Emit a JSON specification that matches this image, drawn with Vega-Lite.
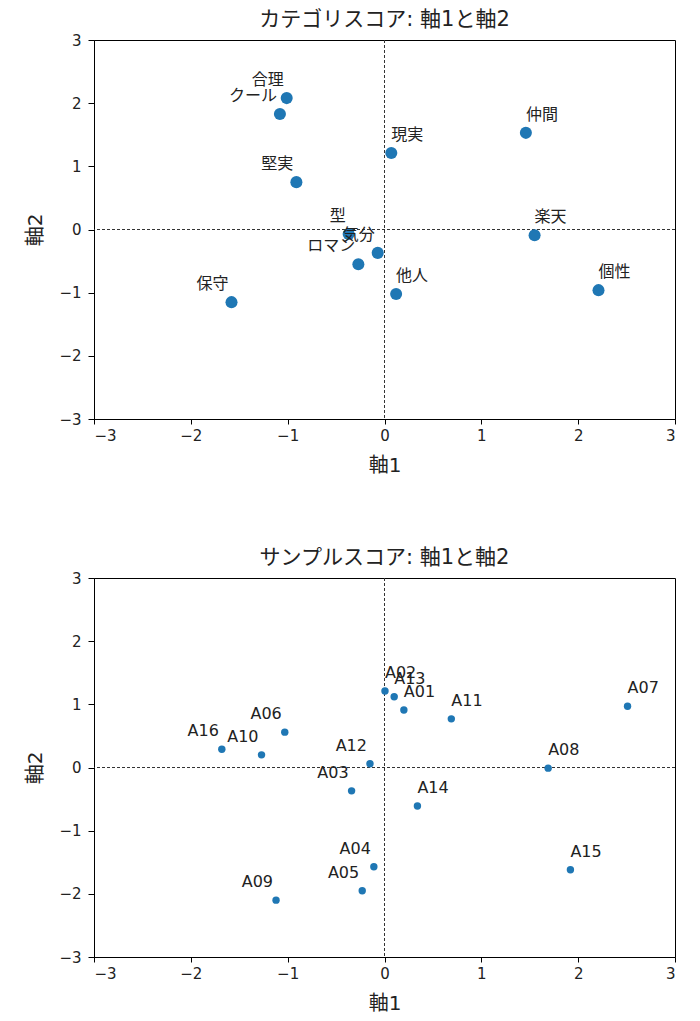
{
  "$schema": "https://vega.github.io/schema/vega-lite/v6.json",
  "background": "white",
  "padding": {"left": 25, "top": 8, "right": 20, "bottom": 5},
  "spacing": 70,
  "config": {
    "font": "DejaVu Sans, Noto Sans CJK JP",
    "view": {"stroke": "black", "strokeWidth": 1},
    "title": {"fontSize": 21, "fontWeight": "normal", "font": "DejaVu Sans, Noto Sans CJK JP", "color": "#222", "offset": 3},
    "axis": {
      "domainColor": "black", "tickColor": "black", "grid": false, "format": "d",
      "labelFontSize": 15, "labelColor": "#222", "labelFont": "DejaVu Sans",
      "titleFontSize": 20, "titleFontWeight": "normal", "titleFont": "DejaVu Sans, Noto Sans CJK JP", "titleColor": "#222"
    },
    "axisX": {"tickSize": 5, "labelPadding": 4, "titlePadding": 12},
    "axisY": {"tickSize": 6, "labelPadding": 7, "titlePadding": 13}
  },
  "datasets": {
    "cat": [
      {"name": "合理", "x": -1.01, "y": 2.08},
      {"name": "クール", "x": -1.08, "y": 1.83},
      {"name": "堅実", "x": -0.91, "y": 0.75},
      {"name": "現実", "x": 0.07, "y": 1.21},
      {"name": "仲間", "x": 1.46, "y": 1.53},
      {"name": "楽天", "x": 1.55, "y": -0.09},
      {"name": "個性", "x": 2.21, "y": -0.96},
      {"name": "型", "x": -0.37, "y": -0.07},
      {"name": "気分", "x": -0.07, "y": -0.37},
      {"name": "ロマン", "x": -0.27, "y": -0.55},
      {"name": "他人", "x": 0.12, "y": -1.02},
      {"name": "保守", "x": -1.58, "y": -1.15}
    ],
    "sample": [
      {"name": "A01", "x": 0.2, "y": 0.91},
      {"name": "A02", "x": 0.005, "y": 1.21},
      {"name": "A03", "x": -0.34, "y": -0.37},
      {"name": "A04", "x": -0.11, "y": -1.57},
      {"name": "A05", "x": -0.23, "y": -1.95},
      {"name": "A06", "x": -1.03, "y": 0.56},
      {"name": "A07", "x": 2.51, "y": 0.97},
      {"name": "A08", "x": 1.69, "y": -0.01},
      {"name": "A09", "x": -1.12, "y": -2.1},
      {"name": "A10", "x": -1.27, "y": 0.2},
      {"name": "A11", "x": 0.69, "y": 0.77},
      {"name": "A12", "x": -0.15, "y": 0.06},
      {"name": "A13", "x": 0.1, "y": 1.12},
      {"name": "A14", "x": 0.34, "y": -0.61},
      {"name": "A15", "x": 1.92, "y": -1.62},
      {"name": "A16", "x": -1.68, "y": 0.29}
    ]
  },
  "vconcat": [
    {
      "title": "カテゴリスコア: 軸1と軸2",
      "width": 581,
      "height": 379,
      "data": {"name": "cat"},
      "layer": [
        {
          "mark": {"type": "rule", "strokeDash": [3, 2], "color": "#333", "strokeWidth": 0.8},
          "encoding": {"x": {"datum": 0, "type": "quantitative"}}
        },
        {
          "mark": {"type": "rule", "strokeDash": [3, 2], "color": "#333", "strokeWidth": 0.8},
          "encoding": {"y": {"datum": 0, "type": "quantitative"}}
        },
        {
          "mark": {"type": "circle", "size": 145, "color": "#1f77b4", "opacity": 1},
          "encoding": {
            "x": {"field": "x", "type": "quantitative", "scale": {"domain": [-3, 3], "nice": false}, "axis": {"title": "軸1", "values": [-3, -2, -1, 0, 1, 2, 3]}},
            "y": {"field": "y", "type": "quantitative", "scale": {"domain": [-3, 3], "nice": false}, "axis": {"title": "軸2", "values": [-3, -2, -1, 0, 1, 2, 3]}}
          }
        },
        {
          "transform": [{"filter": "datum.x < 0"}],
          "mark": {"type": "text", "align": "right", "baseline": "middle", "dx": -3, "dy": -18, "fontSize": 16, "font": "Noto Sans CJK JP", "color": "#222"},
          "encoding": {
            "x": {"field": "x", "type": "quantitative"},
            "y": {"field": "y", "type": "quantitative"},
            "text": {"field": "name"}
          }
        },
        {
          "transform": [{"filter": "datum.x >= 0"}],
          "mark": {"type": "text", "align": "left", "baseline": "middle", "dx": 0, "dy": -18, "fontSize": 16, "font": "Noto Sans CJK JP", "color": "#222"},
          "encoding": {
            "x": {"field": "x", "type": "quantitative"},
            "y": {"field": "y", "type": "quantitative"},
            "text": {"field": "name"}
          }
        }
      ]
    },
    {
      "title": "サンプルスコア: 軸1と軸2",
      "width": 581,
      "height": 379,
      "data": {"name": "sample"},
      "layer": [
        {
          "mark": {"type": "rule", "strokeDash": [3, 2], "color": "#333", "strokeWidth": 0.8},
          "encoding": {"x": {"datum": 0, "type": "quantitative"}}
        },
        {
          "mark": {"type": "rule", "strokeDash": [3, 2], "color": "#333", "strokeWidth": 0.8},
          "encoding": {"y": {"datum": 0, "type": "quantitative"}}
        },
        {
          "mark": {"type": "circle", "size": 55, "color": "#1f77b4", "opacity": 1},
          "encoding": {
            "x": {"field": "x", "type": "quantitative", "scale": {"domain": [-3, 3], "nice": false}, "axis": {"title": "軸1", "values": [-3, -2, -1, 0, 1, 2, 3]}},
            "y": {"field": "y", "type": "quantitative", "scale": {"domain": [-3, 3], "nice": false}, "axis": {"title": "軸2", "values": [-3, -2, -1, 0, 1, 2, 3]}}
          }
        },
        {
          "transform": [{"filter": "datum.x < 0"}],
          "mark": {"type": "text", "align": "right", "baseline": "middle", "dx": -3, "dy": -18, "fontSize": 16, "font": "DejaVu Sans", "color": "#222"},
          "encoding": {
            "x": {"field": "x", "type": "quantitative"},
            "y": {"field": "y", "type": "quantitative"},
            "text": {"field": "name"}
          }
        },
        {
          "transform": [{"filter": "datum.x >= 0"}],
          "mark": {"type": "text", "align": "left", "baseline": "middle", "dx": 0, "dy": -18, "fontSize": 16, "font": "DejaVu Sans", "color": "#222"},
          "encoding": {
            "x": {"field": "x", "type": "quantitative"},
            "y": {"field": "y", "type": "quantitative"},
            "text": {"field": "name"}
          }
        }
      ]
    }
  ]
}
